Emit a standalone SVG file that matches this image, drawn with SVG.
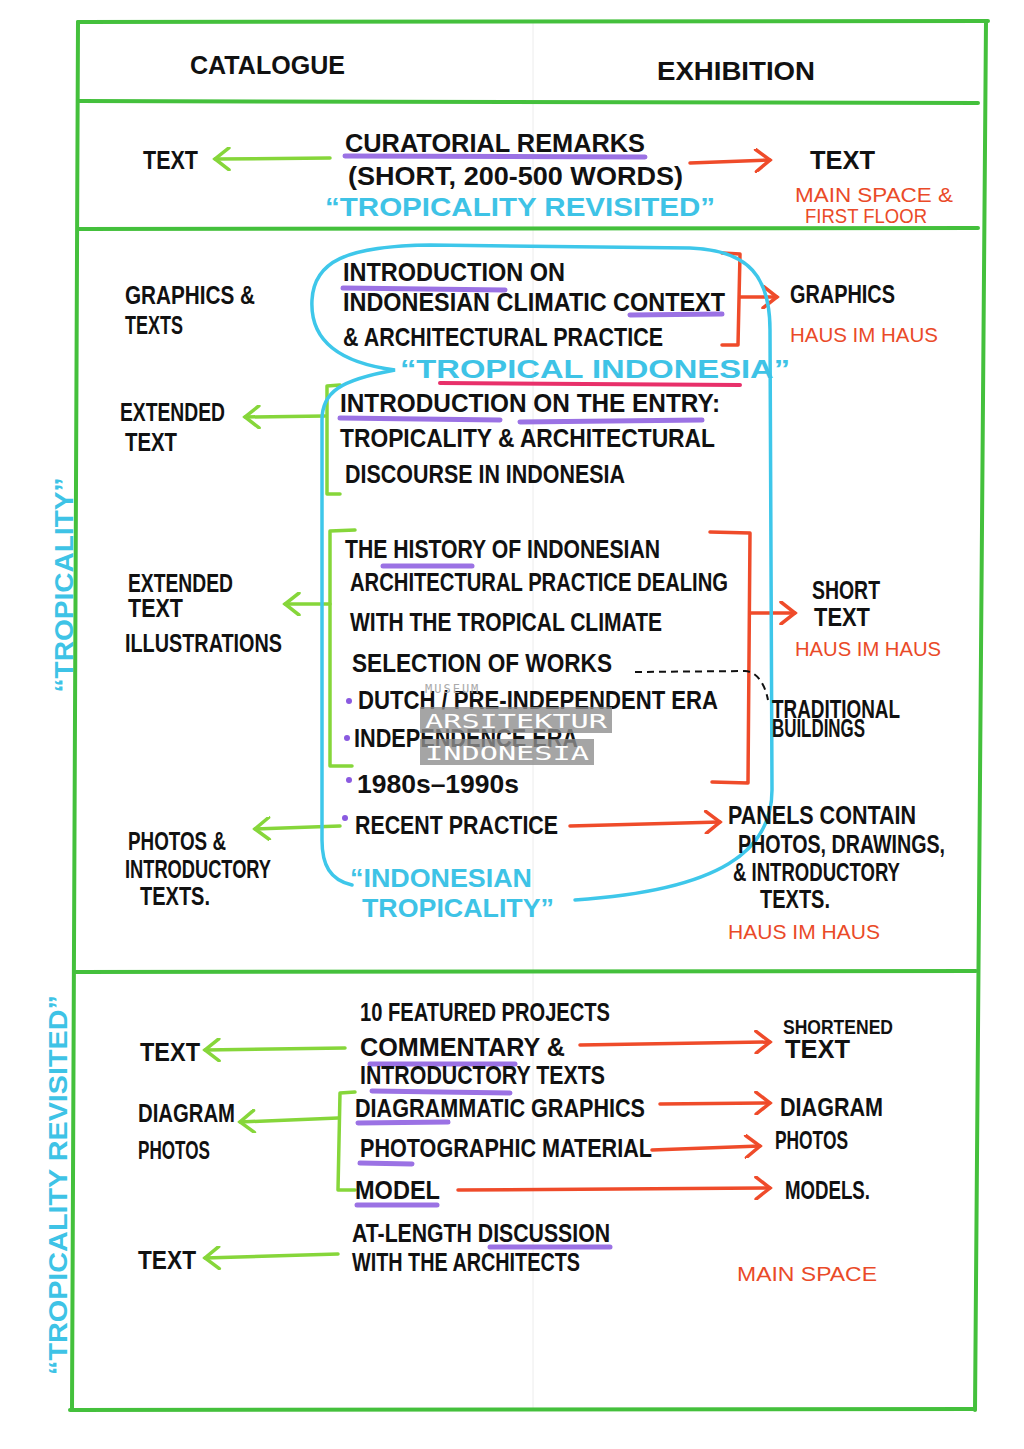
<svg xmlns="http://www.w3.org/2000/svg" width="1024" height="1449" viewBox="0 0 1024 1449">
<style>
.t{font-family:"Liberation Sans",Arial,sans-serif;font-size:25px;fill:#111;font-weight:bold}
.s{font-size:20px}
.o{fill:#ea4a28;font-weight:normal}
.c{fill:#3ec3e6}
.fr{fill:none;stroke:#44c03c;stroke-width:4;stroke-linecap:round}
.ga{fill:none;stroke:#86d63a;stroke-width:3.5;stroke-linecap:round;stroke-linejoin:round}
.oa{fill:none;stroke:#ef4b2a;stroke-width:3.5;stroke-linecap:round;stroke-linejoin:round}
.ul{fill:none;stroke:#9b72e4;stroke-width:5;stroke-linecap:round}
.cy{fill:none;stroke:#3ec7ea;stroke-width:3.5;stroke-linecap:round}
.wm{font-family:"DejaVu Sans Mono","Liberation Mono",monospace;fill:#fff;font-size:20px}
</style>
<defs>
<marker id="mg" viewBox="0 0 24 24" refX="20" refY="12" markerWidth="24" markerHeight="24" markerUnits="userSpaceOnUse" orient="auto">
<path d="M6,1 L20,12 L6,23" fill="none" stroke="#86d63a" stroke-width="3.5" stroke-linecap="round"/>
</marker>
<marker id="mo" viewBox="0 0 24 24" refX="20" refY="12" markerWidth="24" markerHeight="24" markerUnits="userSpaceOnUse" orient="auto">
<path d="M6,1 L20,12 L6,23" fill="none" stroke="#ef4b2a" stroke-width="3.5" stroke-linecap="round"/>
</marker>
</defs>
<rect width="1024" height="1449" fill="#fff"/>
<line x1="533" y1="22" x2="533" y2="1408" stroke="#ececec" stroke-width="1"/>

<g id="frame">
<path class="fr" d="M78,22 L988,21"/>
<path class="fr" d="M78,22 L72,1410"/>
<path class="fr" d="M986,21 L975,1410"/>
<path class="fr" d="M70,1410 L975,1409"/>
<path class="fr" d="M78,101 L978,103"/>
<path class="fr" d="M78,229 L978,228"/>
<path class="fr" d="M75,972 L976,971"/>
</g>

<g id="headers">
<text class="t" x="190" y="74" textLength="155" lengthAdjust="spacingAndGlyphs">CATALOGUE</text>
<text class="t" x="657" y="80" textLength="158" lengthAdjust="spacingAndGlyphs">EXHIBITION</text>
</g>

<g id="side-labels">
<text class="t c" transform="translate(73,585) rotate(-90)" text-anchor="middle" font-size="28" textLength="215" lengthAdjust="spacingAndGlyphs">“TROPICALITY”</text>
<text class="t c" transform="translate(67,1185) rotate(-90)" text-anchor="middle" font-size="28" textLength="380" lengthAdjust="spacingAndGlyphs">“TROPICALITY REVISITED”</text>
</g>

<g id="connectors">
<path class="ga" d="M330,158 L215,159" marker-end="url(#mg)"/>
<path class="oa" d="M690,163 L770,160" marker-end="url(#mo)"/>
<path class="oa" d="M722,253 L740,254 L738,345 L722,345"/>
<path class="oa" d="M740,297 L777,297" marker-end="url(#mo)"/>
<path class="ga" d="M340,385 L327,386 L327,494 L340,494"/>
<path class="ga" d="M325,416 L245,417" marker-end="url(#mg)"/>
<path class="ga" d="M355,530 L330,531 L330,766 L352,766"/>
<path class="ga" d="M330,604 L285,604" marker-end="url(#mg)"/>
<path class="oa" d="M710,532 L750,533 L748,783 L712,782"/>
<path class="oa" d="M750,613 L795,613" marker-end="url(#mo)"/>
<path d="M635,672 L745,671 C758,672 765,685 768,700" fill="none" stroke="#111" stroke-width="2" stroke-dasharray="7 5"/>
<path class="ga" d="M340,826 L255,829" marker-end="url(#mg)"/>
<path class="oa" d="M570,826 L720,822" marker-end="url(#mo)"/>
<path class="ga" d="M345,1048 L205,1050" marker-end="url(#mg)"/>
<path class="oa" d="M580,1045 L770,1042" marker-end="url(#mo)"/>
<path class="ga" d="M355,1092 L340,1093 L338,1190 L355,1190"/>
<path class="ga" d="M338,1118 L240,1122" marker-end="url(#mg)"/>
<path class="oa" d="M660,1104 L770,1103" marker-end="url(#mo)"/>
<path class="oa" d="M652,1150 L760,1146" marker-end="url(#mo)"/>
<path class="oa" d="M458,1190 L770,1188" marker-end="url(#mo)"/>
<path class="ga" d="M338,1254 L205,1258" marker-end="url(#mg)"/>
</g>

<g id="tropical-loop">
<path class="cy" d="M352,885 C330,880 322,865 322,840 L322,420 C322,392 340,380 395,370 C332,362 310,336 312,300 C314,262 345,246 430,245 L690,248 C750,250 770,278 770,330 L772,790 C772,850 722,890 575,900"/>
</g>

<g id="curatorial">
<text class="t" x="143" y="169" textLength="55" lengthAdjust="spacingAndGlyphs">TEXT</text>
<path class="ul" d="M345,156 L645,157"/>
<text class="t" x="345" y="152" textLength="300" lengthAdjust="spacingAndGlyphs">CURATORIAL REMARKS</text>
<text class="t" x="348" y="185" textLength="335" lengthAdjust="spacingAndGlyphs">(SHORT, 200-500 WORDS)</text>
<text class="t c" x="325" y="216" textLength="390" lengthAdjust="spacingAndGlyphs">“TROPICALITY REVISITED”</text>
<text class="t" x="810" y="169" textLength="65" lengthAdjust="spacingAndGlyphs">TEXT</text>
<text class="t s o" x="795" y="202" textLength="158" lengthAdjust="spacingAndGlyphs">MAIN SPACE &amp;</text>
<text class="t s o" x="805" y="223" textLength="122" lengthAdjust="spacingAndGlyphs">FIRST FLOOR</text>
</g>

<g id="intro-climate">
<text class="t" x="125" y="304" textLength="130" lengthAdjust="spacingAndGlyphs">GRAPHICS &amp;</text>
<text class="t" x="125" y="334" textLength="58" lengthAdjust="spacingAndGlyphs">TEXTS</text>
<path class="ul" d="M343,288 L505,290"/>
<path class="ul" d="M630,315 L722,314"/>
<text class="t" x="343" y="281" textLength="222" lengthAdjust="spacingAndGlyphs">INTRODUCTION ON</text>
<text class="t" x="343" y="311" textLength="382" lengthAdjust="spacingAndGlyphs">INDONESIAN CLIMATIC CONTEXT</text>
<text class="t" x="343" y="346" textLength="320" lengthAdjust="spacingAndGlyphs">&amp; ARCHITECTURAL PRACTICE</text>
<text class="t" x="790" y="303" textLength="105" lengthAdjust="spacingAndGlyphs">GRAPHICS</text>
<text class="t s o" x="790" y="342" textLength="148" lengthAdjust="spacingAndGlyphs">HAUS IM HAUS</text>
</g>

<g id="tropical-indonesia-label">
<path d="M440,383 L740,385" fill="none" stroke="#e8306a" stroke-width="4" stroke-linecap="round"/>
<text class="t c" x="400" y="378" font-size="28" textLength="390" lengthAdjust="spacingAndGlyphs">“TROPICAL   INDONESIA”</text>
</g>

<g id="intro-entry">
<text class="t" x="120" y="421" textLength="105" lengthAdjust="spacingAndGlyphs">EXTENDED</text>
<text class="t" x="125" y="451" textLength="52" lengthAdjust="spacingAndGlyphs">TEXT</text>
<path class="ul" d="M340,418 L500,420"/>
<path class="ul" d="M520,422 L702,420"/>
<text class="t" x="340" y="412" textLength="380" lengthAdjust="spacingAndGlyphs">INTRODUCTION ON THE ENTRY:</text>
<text class="t" x="340" y="447" textLength="375" lengthAdjust="spacingAndGlyphs">TROPICALITY &amp; ARCHITECTURAL</text>
<text class="t" x="345" y="483" textLength="280" lengthAdjust="spacingAndGlyphs">DISCOURSE IN INDONESIA</text>
</g>

<g id="history">
<text class="t" x="128" y="592" textLength="105" lengthAdjust="spacingAndGlyphs">EXTENDED</text>
<text class="t" x="128" y="617" textLength="55" lengthAdjust="spacingAndGlyphs">TEXT</text>
<text class="t" x="125" y="652" textLength="157" lengthAdjust="spacingAndGlyphs">ILLUSTRATIONS</text>
<path class="ul" d="M383,566 L472,566"/>
<text class="t" x="345" y="558" textLength="315" lengthAdjust="spacingAndGlyphs">THE HISTORY OF INDONESIAN</text>
<text class="t" x="350" y="591" textLength="378" lengthAdjust="spacingAndGlyphs">ARCHITECTURAL PRACTICE DEALING</text>
<text class="t" x="350" y="631" textLength="312" lengthAdjust="spacingAndGlyphs">WITH THE TROPICAL CLIMATE</text>
<text class="t" x="352" y="672" textLength="260" lengthAdjust="spacingAndGlyphs">SELECTION OF WORKS</text>
<circle cx="349" cy="701" r="3" fill="#8a5ae0"/>
<text class="t" x="358" y="709" textLength="360" lengthAdjust="spacingAndGlyphs">DUTCH / PRE-INDEPENDENT ERA</text>
<circle cx="347" cy="738" r="3" fill="#8a5ae0"/>
<text class="t" x="354" y="747" textLength="224" lengthAdjust="spacingAndGlyphs">INDEPENDENCE ERA</text>
<circle cx="349" cy="780" r="3" fill="#8a5ae0"/>
<text class="t" x="357" y="793" textLength="162" lengthAdjust="spacingAndGlyphs">1980s–1990s</text>
<text class="t" x="812" y="599" textLength="68" lengthAdjust="spacingAndGlyphs">SHORT</text>
<text class="t" x="814" y="626" textLength="56" lengthAdjust="spacingAndGlyphs">TEXT</text>
<text class="t s o" x="795" y="656" textLength="146" lengthAdjust="spacingAndGlyphs">HAUS IM HAUS</text>
<text class="t" x="772" y="718" font-size="18" textLength="128" lengthAdjust="spacingAndGlyphs">TRADITIONAL</text>
<text class="t" x="772" y="737" font-size="18" textLength="93" lengthAdjust="spacingAndGlyphs">BUILDINGS</text>
</g>

<g id="recent">
<circle cx="345" cy="818" r="3" fill="#8a5ae0"/>
<text class="t" x="355" y="834" textLength="203" lengthAdjust="spacingAndGlyphs">RECENT PRACTICE</text>
<text class="t" x="128" y="850" font-size="22" textLength="98" lengthAdjust="spacingAndGlyphs">PHOTOS &amp;</text>
<text class="t" x="125" y="878" font-size="22" textLength="146" lengthAdjust="spacingAndGlyphs">INTRODUCTORY</text>
<text class="t" x="140" y="905" font-size="22" textLength="70" lengthAdjust="spacingAndGlyphs">TEXTS.</text>
<text class="t" x="728" y="824" font-size="22" textLength="188" lengthAdjust="spacingAndGlyphs">PANELS CONTAIN</text>
<text class="t" x="738" y="853" font-size="22" textLength="207" lengthAdjust="spacingAndGlyphs">PHOTOS, DRAWINGS,</text>
<text class="t" x="733" y="881" font-size="22" textLength="167" lengthAdjust="spacingAndGlyphs">&amp; INTRODUCTORY</text>
<text class="t" x="760" y="908" font-size="22" textLength="70" lengthAdjust="spacingAndGlyphs">TEXTS.</text>
<text class="t s o" x="728" y="939" textLength="152" lengthAdjust="spacingAndGlyphs">HAUS IM HAUS</text>
<text class="t c" x="350" y="887" textLength="182" lengthAdjust="spacingAndGlyphs">“INDONESIAN</text>
<text class="t c" x="362" y="917" textLength="192" lengthAdjust="spacingAndGlyphs">TROPICALITY”</text>
</g>

<g id="featured">
<text class="t" x="360" y="1021" textLength="250" lengthAdjust="spacingAndGlyphs">10 FEATURED PROJECTS</text>
<text class="t" x="140" y="1061" textLength="60" lengthAdjust="spacingAndGlyphs">TEXT</text>
<path class="ul" d="M370,1064 L515,1064"/>
<path class="ul" d="M372,1091 L510,1093"/>
<text class="t" x="360" y="1056" textLength="205" lengthAdjust="spacingAndGlyphs">COMMENTARY &amp;</text>
<text class="t" x="360" y="1084" textLength="245" lengthAdjust="spacingAndGlyphs">INTRODUCTORY TEXTS</text>
<text class="t s" x="783" y="1034" textLength="110" lengthAdjust="spacingAndGlyphs">SHORTENED</text>
<text class="t" x="785" y="1058" textLength="65" lengthAdjust="spacingAndGlyphs">TEXT</text>
</g>

<g id="media">
<text class="t" x="138" y="1122" font-size="22" textLength="97" lengthAdjust="spacingAndGlyphs">DIAGRAM</text>
<text class="t" x="138" y="1159" font-size="22" textLength="72" lengthAdjust="spacingAndGlyphs">PHOTOS</text>
<path class="ul" d="M358,1123 L448,1122"/>
<path class="ul" d="M360,1163 L412,1164"/>
<path class="ul" d="M357,1205 L437,1205"/>
<text class="t" x="355" y="1117" textLength="290" lengthAdjust="spacingAndGlyphs">DIAGRAMMATIC GRAPHICS</text>
<text class="t" x="360" y="1157" textLength="292" lengthAdjust="spacingAndGlyphs">PHOTOGRAPHIC MATERIAL</text>
<text class="t" x="355" y="1199" textLength="85" lengthAdjust="spacingAndGlyphs">MODEL</text>
<text class="t" x="780" y="1116" textLength="103" lengthAdjust="spacingAndGlyphs">DIAGRAM</text>
<text class="t" x="775" y="1149" textLength="73" lengthAdjust="spacingAndGlyphs">PHOTOS</text>
<text class="t" x="785" y="1199" textLength="85" lengthAdjust="spacingAndGlyphs">MODELS.</text>
</g>

<g id="discussion">
<path class="ul" d="M490,1247 L610,1247"/>
<text class="t" x="352" y="1242" textLength="258" lengthAdjust="spacingAndGlyphs">AT-LENGTH DISCUSSION</text>
<text class="t" x="352" y="1271" textLength="228" lengthAdjust="spacingAndGlyphs">WITH THE ARCHITECTS</text>
<text class="t" x="138" y="1269" textLength="58" lengthAdjust="spacingAndGlyphs">TEXT</text>
<text class="t s o" x="737" y="1281" textLength="140" lengthAdjust="spacingAndGlyphs">MAIN SPACE</text>
</g>

<g id="watermark">
<text x="425" y="693" font-family="DejaVu Sans Mono,monospace" font-size="12" fill="#aaa" letter-spacing="2">MUSEUM</text>
<rect x="420" y="707" width="192" height="26" fill="#8e8e8e" opacity="0.8"/>
<rect x="420" y="739" width="174" height="26" fill="#8e8e8e" opacity="0.8"/>
<text class="wm" x="425" y="728" textLength="182" lengthAdjust="spacingAndGlyphs">ARSITEKTUR</text>
<text class="wm" x="425" y="760" textLength="164" lengthAdjust="spacingAndGlyphs">INDONESIA</text>
</g>
</svg>
